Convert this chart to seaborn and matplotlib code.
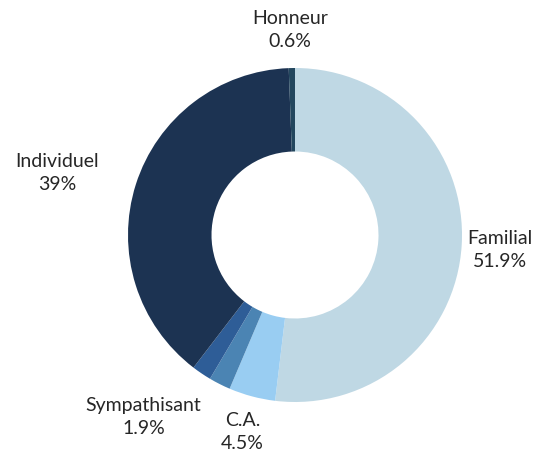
import matplotlib
matplotlib.use("Agg")
import matplotlib.pyplot as plt
import numpy as np
import seaborn as sns

categories = ["Familial", "C.A.", "", "Sympathisant", "Individuel", "Honneur"]
shares = [51.9, 4.5, 2.1, 1.9, 39.0, 0.6]
share_labels = ["51.9%", "4.5%", "", "1.9%", "39%", "0.6%"]

sns.set_theme(style="white")
plt.rcParams['font.family'] = ['Lato', 'DejaVu Sans']

colors = ["#bfd8e4", "#99cdf2", "#4b84b3", "#2e5d97", "#1c3352", "#23475e"]
# radial distance and angular nudge (degrees) for each label
label_dist = [1.23, 1.22, 0, 1.42, 1.47, 1.23]
label_shift = [-0.8, 0, 0, -5.7, 3.0, 0.3]

fig = plt.figure(figsize=(5.41, 4.53), dpi=100)
ax = fig.add_axes([0, 0, 1, 1])
wedges, _ = ax.pie(shares, colors=colors, startangle=90, counterclock=False,
                   radius=1.0, wedgeprops=dict(width=0.5, linewidth=0))

for w, name, lab, d, s in zip(wedges, categories, share_labels, label_dist, label_shift):
    if not name:
        continue
    ang = np.deg2rad((w.theta1 + w.theta2) / 2 + s)
    ax.text(d * np.cos(ang), d * np.sin(ang), f"{name}\n{lab}",
            ha="center", va="center", fontsize=14, color="#262626",
            linespacing=1.42)

ax.set_xlim(-295 / 167, (541 - 295) / 167)
ax.set_ylim(-(453 - 235) / 167, 235 / 167)
ax.set_aspect("auto")
ax.axis("off")

fig.savefig("out.png", dpi=100)
